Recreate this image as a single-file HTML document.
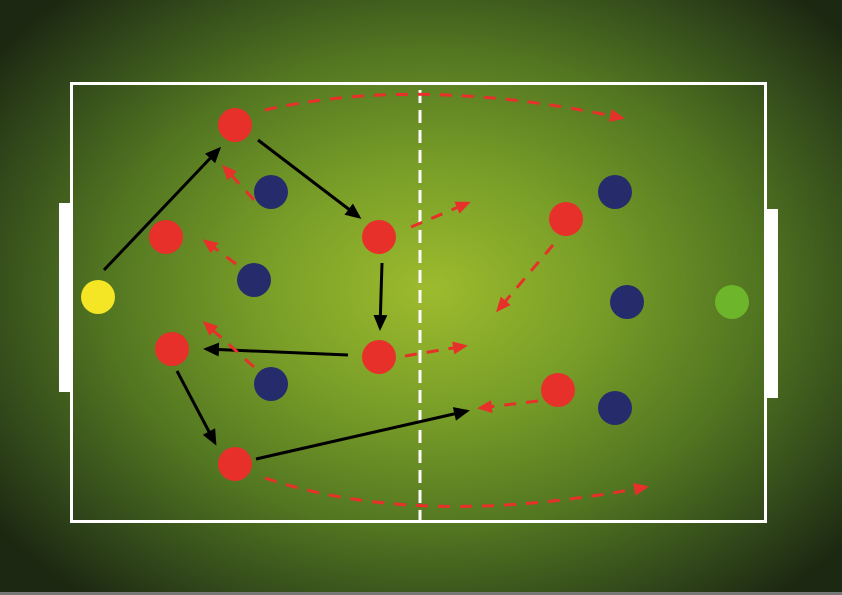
<!DOCTYPE html>
<html><head><style>
html,body{margin:0;padding:0;width:842px;height:595px;overflow:hidden}
body{background:radial-gradient(ellipse 540px 400px at 430px 290px,#9dbb2e 0%,#7a9f28 30%,#527621 60%,#30461a 85%,#1c2811 100%)}
</style></head><body>
<svg width="842" height="595" style="position:absolute;left:0;top:0">
<defs>
<marker id="ab" markerWidth="16" markerHeight="14" refX="13" refY="7" orient="auto" markerUnits="userSpaceOnUse" viewBox="0 0 16 14"><path d="M0,0 L16,7 L0,14 z" fill="#000"/></marker>
<marker id="ar" markerWidth="15" markerHeight="13" refX="12" refY="6.5" orient="auto" markerUnits="userSpaceOnUse" viewBox="0 0 15 13"><path d="M0,0 L15,6.5 L0,13 z" fill="#e8302a"/></marker>
</defs>
<style>
.b{stroke:#000;stroke-width:3;fill:none;marker-end:url(#ab)}
.r{stroke:#e8302a;stroke-width:3;fill:none;stroke-dasharray:12 10;marker-end:url(#ar)}
</style>
<rect x="59" y="203" width="12" height="189" fill="#fff"/>
<rect x="766" y="209" width="12" height="189" fill="#fff"/>
<rect x="71.5" y="83.5" width="694" height="438" fill="none" stroke="#fff" stroke-width="3"/>
<line x1="420" y1="90" x2="420" y2="530" stroke="#fff" stroke-width="3" stroke-dasharray="13 7"/>
<path class="b" d="M104,270 L219,149"/>
<path class="b" d="M258,140 L359,217"/>
<path class="b" d="M382,263 L380,328"/>
<path class="b" d="M348,355 L206,349"/>
<path class="b" d="M177,371 L215,443"/>
<path class="b" d="M256,459 L467,411"/>
<path class="r" d="M265,110 Q420,75 622,118"/>
<path class="r" d="M254,200 L224,167"/>
<path class="r" d="M236,264 L205,241"/>
<path class="r" d="M254,367 L205,323"/>
<path class="r" d="M411,227 L468,203"/>
<path class="r" d="M405,356 L465,346"/>
<path class="r" d="M553,245 L498,310"/>
<path class="r" d="M538,401 L480,408"/>
<path class="r" d="M265,478 Q420,530 646,487"/>
<g fill="#e8302a">
<circle cx="235" cy="125" r="17"/><circle cx="166" cy="237" r="17"/><circle cx="379" cy="237" r="17"/>
<circle cx="172" cy="349" r="17"/><circle cx="379" cy="357" r="17"/><circle cx="235" cy="464" r="17"/>
<circle cx="566" cy="219" r="17"/><circle cx="558" cy="390" r="17"/></g>
<g fill="#262b6b">
<circle cx="271" cy="192" r="17"/><circle cx="254" cy="280" r="17"/><circle cx="271" cy="384" r="17"/>
<circle cx="615" cy="192" r="17"/><circle cx="627" cy="302" r="17"/><circle cx="615" cy="408" r="17"/></g>
<circle cx="98" cy="297" r="17" fill="#f5e625"/>
<circle cx="732" cy="302" r="17" fill="#6db52a"/>
<rect x="0" y="592" width="842" height="3" fill="#777"/>
</svg>
</body></html>
